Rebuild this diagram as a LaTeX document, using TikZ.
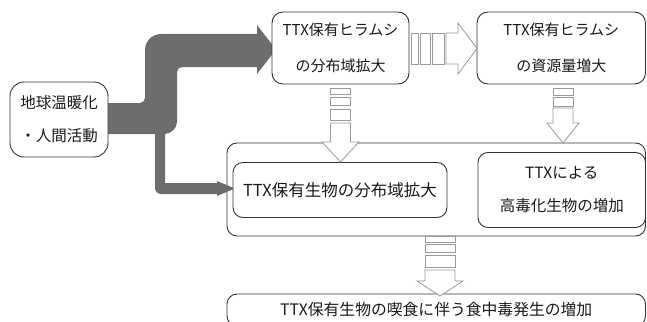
\documentclass[tikz,border=0pt]{standalone}
\usepackage{fontspec}
\setmainfont{Noto Sans CJK JP}
\definecolor{arrowgray}{HTML}{6D6D6D}
\definecolor{hollowgray}{HTML}{9A9A9A}
\definecolor{boxline}{HTML}{333333}
\definecolor{txt}{HTML}{1A1A1A}
\begin{document}
\begin{tikzpicture}[x=1pt,y=-1pt,
  box/.style={draw=boxline, line width=0.9pt, fill=white, rounded corners=#1,
    inner sep=0pt, align=center, text=txt, font=\fontsize{15.5}{33}\selectfont},
  box/.default=11pt,
  frame/.style={draw=boxline, line width=0.9pt, rounded corners=10pt},
  solidarrow/.style={fill=arrowgray, draw=none},
  hollow/.style={draw=hollowgray, fill=white, line width=0.8pt, line join=miter}]
\useasboundingbox (0,0) rectangle (647,321);

% container frame
\draw[frame] (227,143) rectangle (645.5,236);
\coordinate (K) at (436,189.5);

% solid gray arrows
\fill[solidarrow] (104,103) -- (140,103) .. controls (142.75,103) and (145,100.25) .. (145,98)
  -- (145,50) .. controls (145,41.2) and (152.2,34) .. (161,34)
  -- (258,34) -- (258,67) -- (182,67) .. controls (179.25,67) and (177,69.25) .. (177,72)
  -- (177,122) .. controls (177,128.6) and (170.4,134) .. (165,134)
  -- (104,134) -- cycle;
\fill[solidarrow] (257,25) -- (276,49.5) -- (257,74) -- cycle;
\fill[solidarrow] (155,125) -- (155,188) .. controls (155,191.3) and (157.7,194) .. (161,194)
  -- (219,194) -- (219,183) -- (165,183) -- (165,125) -- cycle;
\fill[solidarrow] (217,181) -- (235,188.5) -- (217,196) -- cycle;

% boxes
\node[box=14pt, minimum width=98pt, minimum height=75pt] (L) at (59,119.5) {地球温暖化\\・人間活動};
\node[box, minimum width=137pt, minimum height=72pt, font=\fontsize{15}{36}\selectfont] (A) at (340.5,48) {TTX保有ヒラムシ\\の分布域拡大};
\node[box, minimum width=168.5pt, minimum height=72pt, font=\fontsize{15}{36}\selectfont] (B) at (561.25,48) {TTX保有ヒラムシ\\の資源量増大};
\node[box=10pt, minimum width=214pt, minimum height=55pt, font=\fontsize{16.5}{33}\selectfont] (C) at (340,190) {TTX保有生物の分布域拡大};
\node[box=10pt, minimum width=167.5pt, minimum height=75pt] (D) at (561.75,190) {TTXによる\\高毒化生物の増加};
\node[box=10pt, minimum width=418.5pt, minimum height=32pt, font=\fontsize{15.8}{33}\selectfont] (E) at (436.25,310) {TTX保有生物の喫食に伴う食中毒発生の増加};

% hollow arrow A -> B
\draw[hollow] (411,33) rectangle (418,64);
\draw[hollow] (420,33) rectangle (430,64);
\draw[hollow] (432,33) rectangle (444,64);
\draw[hollow] (446,33) -- (458,33) -- (458,23) -- (477,48.5) -- (458,74) -- (458,64) -- (446,64) -- cycle;

% hollow arrow A -> C
\draw[hollow] (330.5,88) rectangle (350.5,94);
\draw[hollow] (330.5,97) rectangle (350.5,105);
\draw[hollow] (330.5,109) rectangle (350.5,120);
\draw[hollow] (330.5,123) -- (330.5,142) -- (322,142) -- (340.5,162) -- (359,142) -- (350.5,142) -- (350.5,123) -- cycle;

% hollow arrow B -> frame
\draw[hollow] (553,88) rectangle (573,95);
\draw[hollow] (553,97) rectangle (573,106);
\draw[hollow] (553,108) -- (553,123) -- (547,123) -- (563,143) -- (579,123) -- (573,123) -- (573,108) -- cycle;

% hollow arrow frame -> E
\draw[hollow] (425,236) rectangle (455,242);
\draw[hollow] (425,244) rectangle (455,252);
\draw[hollow] (425,255) rectangle (455,267);
\draw[hollow] (425,270) -- (425,281) -- (417,281) -- (440,296) -- (463,281) -- (455,281) -- (455,270) -- cycle;
\end{tikzpicture}
\end{document}
